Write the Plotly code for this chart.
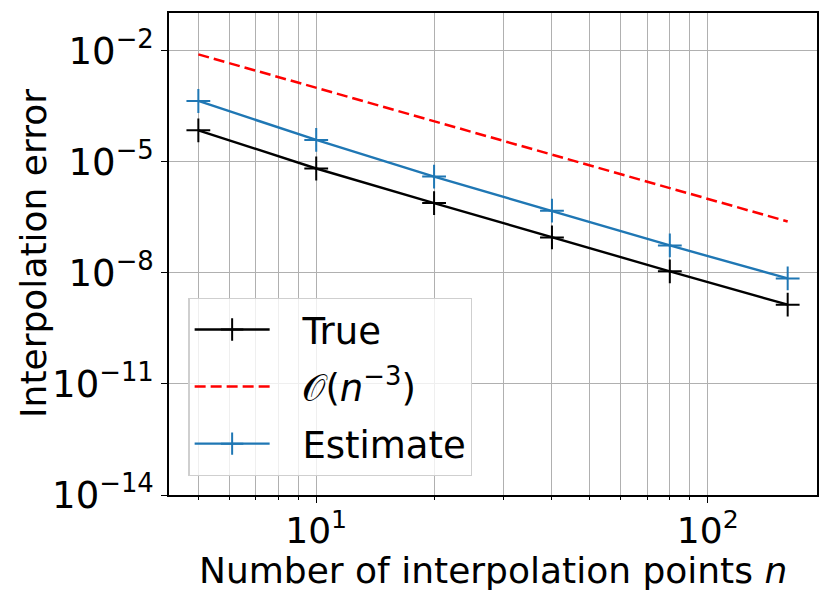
import plotly.graph_objects as go

n_vals = [5, 10, 20, 40, 80, 160]
true_err = [7.1e-5, 6.6e-6, 7.7e-7, 9.1e-8, 1.1e-8, 1.38e-9]
estimate_err = [4.4e-4, 3.9e-5, 4.0e-6, 4.8e-7, 5.5e-8, 7.1e-9]
order_ref = [8.0e-3, 1.0e-3, 1.25e-4, 1.5625e-5, 1.953e-6, 2.44e-7]

x_major = [10, 100]
x_major_text = ["10<sup>1</sup>", "10<sup>2</sup>"]
x_minor = [5, 6, 7, 8, 9, 20, 30, 40, 50, 60, 70, 80, 90]
y_major = [1e-2, 1e-5, 1e-8, 1e-11, 1e-14]
y_major_text = ["10<sup>−2</sup>", "10<sup>−5</sup>", "10<sup>−8</sup>", "10<sup>−11</sup>", "10<sup>−14</sup>"]

x_title = "Number of interpolation points <i>n</i>"
y_title = "Interpolation error"

FONT = "DejaVu Sans"
FS = 37
SP = "\u2002\u2005"
fig = go.Figure()
fig.add_trace(go.Scatter(
    x=n_vals, y=true_err, name=SP + "True", mode="lines+markers", legendgroup="a",
    line=dict(color="black", width=2.4),
    marker=dict(symbol="cross-thin", size=17, line=dict(color="black", width=2)),
))
fig.add_trace(go.Scatter(
    x=n_vals, y=order_ref, name=SP + "𝒪(<i>n</i><sup>−3</sup>)", mode="lines", legendgroup="b",
    line=dict(color="red", width=2.5, dash="11px,5px"),
))
fig.add_trace(go.Scatter(
    x=n_vals, y=estimate_err, name=SP + "Estimate", mode="lines+markers", legendgroup="c",
    line=dict(color="#1f77b4", width=2.4),
    marker=dict(symbol="cross-thin", size=17, line=dict(color="#1f77b4", width=2)),
))

fig.update_layout(
    width=822, height=595,
    margin=dict(l=161, r=13, t=5, b=108, autoexpand=False),
    paper_bgcolor="white", plot_bgcolor="white",
    font=dict(family=FONT, size=FS, color="black"),
    showlegend=True,
    legend=dict(
        x=0.03, y=0.04, xanchor="left", yanchor="bottom",
        bgcolor="rgba(255,255,255,0.8)", bordercolor="#cfcfcf", borderwidth=1.2,
        font=dict(family=FONT, size=FS), itemwidth=75, tracegroupgap=6,
        traceorder="grouped",
    ),
    xaxis=dict(
        type="log", range=[0.624, 2.279], automargin=False,
        tickmode="array", tickvals=x_major, ticktext=x_major_text,
        ticks="outside", ticklen=6, tickwidth=1.3, tickcolor="black",
        ticklabelstandoff=-3,
        showgrid=True, gridcolor="#b0b0b0", gridwidth=1,
        showline=True, linecolor="black", linewidth=1.5, mirror=True,
        zeroline=False,
        minor=dict(tickmode="array", tickvals=x_minor, ticks="outside", ticklen=3.5,
                   tickwidth=1, tickcolor="black", showgrid=True,
                   gridcolor="#b0b0b0", gridwidth=1),
        tickfont=dict(size=36),
    ),
    yaxis=dict(
        type="log", range=[-14, -0.98], automargin=False,
        tickmode="array", tickvals=y_major, ticktext=y_major_text,
        ticks="outside", ticklen=6, tickwidth=1.3, tickcolor="black",
        showgrid=True, gridcolor="#b0b0b0", gridwidth=1,
        showline=True, linecolor="black", linewidth=1.5, mirror=True,
        zeroline=False,
        tickfont=dict(size=FS),
    ),
    annotations=[
        dict(text=x_title, xref="paper", yref="paper", x=0.5, y=0,
             xanchor="center", yanchor="middle", yshift=-75, showarrow=False,
             font=dict(family=FONT, size=36)),
        dict(text=y_title, xref="paper", yref="paper", x=0, y=0.5,
             xanchor="center", yanchor="middle", xshift=-136, textangle=-90,
             showarrow=False, font=dict(family=FONT, size=36)),
    ],
)

fig.write_html("out.html")
